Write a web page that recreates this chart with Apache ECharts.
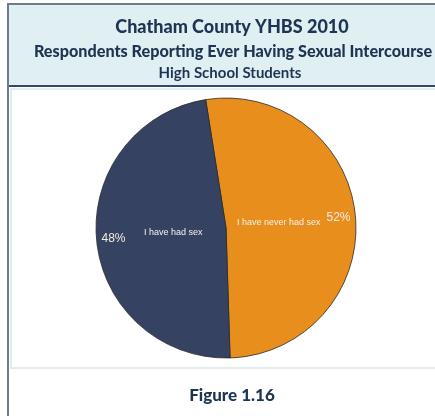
<!DOCTYPE html>
<html>
<head>
<meta charset="utf-8">
<style>
  html, body { margin: 0; padding: 0; background: #ffffff; }
  #chart { width: 435px; height: 416px; }
</style>
<script src="https://cdn.jsdelivr.net/npm/echarts@6/dist/echarts.min.js"></script>
</head>
<body>
<div id="chart"></div>
<script>
// Survey responses (percent of high school students)
const categories = ['I have never had sex', 'I have had sex'];
const percents = [52, 48];
const sliceColors = ['#e88e1d', '#354262'];

const titleLines = [
  'Chatham County YHBS 2010',
  'Respondents Reporting Ever Having Sexual Intercourse',
  'High School Students'
];
const figureCaption = 'Figure 1.16';

const chart = echarts.init(document.getElementById('chart'), null, { renderer: 'canvas' });

const pieData = categories.map((name, i) => ({
  name: name,
  value: percents[i],
  itemStyle: { color: sliceColors[i] }
}));

const center = [226, 228];
const startAngle = 99;
const titleFont = 'Lato, "Open Sans", sans-serif';
const navyText = '#1e3453';

chart.setOption({
  animation: false,
  backgroundColor: '#ffffff',
  graphic: [
    // header band
    { type: 'rect', shape: { x: 8, y: 4, width: 427, height: 82 }, style: { fill: '#e0eff1' }, z: 0 },
    // inner light frame of the chart area
    { type: 'rect', shape: { x: 11, y: 89, width: 430, height: 279 }, style: { fill: 'none', stroke: '#e2edf0', lineWidth: 2 }, z: 1 },
    // header bottom rule
    { type: 'rect', shape: { x: 8, y: 85, width: 427, height: 2 }, style: { fill: '#2f4a6c' }, z: 2 },
    // outer frame lines (top and left)
    { type: 'rect', shape: { x: 7, y: 3, width: 428, height: 2 }, style: { fill: '#6e7b8f' }, z: 2 },
    { type: 'rect', shape: { x: 7, y: 3, width: 2, height: 413 }, style: { fill: '#6e7b8f' }, z: 2 }
  ],
  title: [
    {
      text: titleLines[0], left: 227, top: 13, textAlign: 'center',
      textStyle: { fontFamily: titleFont, fontWeight: 900, fontSize: 18, color: navyText }
    },
    {
      text: titleLines[1], left: 228, top: 39, textAlign: 'center',
      textStyle: { fontFamily: titleFont, fontWeight: 900, fontSize: 16.2, color: navyText }
    },
    {
      text: titleLines[2], left: 225, top: 61, textAlign: 'center',
      textStyle: { fontFamily: titleFont, fontWeight: 'bold', fontSize: 15, color: navyText }
    },
    {
      text: figureCaption, left: 227, top: 382, textAlign: 'center',
      textStyle: { fontFamily: titleFont, fontWeight: 900, fontSize: 17, color: navyText }
    }
  ],
  series: [
    {
      // visible slices
      type: 'pie',
      center: center,
      radius: [0, 130],
      startAngle: startAngle,
      clockwise: true,
      silent: true,
      label: { show: false },
      labelLine: { show: false },
      itemStyle: { borderColor: '#2a2a2a', borderWidth: 0.8 },
      data: pieData
    },
    {
      // category names, placed near the middle of each slice
      type: 'pie',
      center: center,
      radius: [0, 100],
      startAngle: startAngle,
      clockwise: true,
      silent: true,
      itemStyle: { color: 'rgba(0,0,0,0)' },
      label: {
        show: true, position: 'inside', formatter: '{b}',
        fontFamily: '"Liberation Sans", Arial, sans-serif', fontSize: 9, color: '#f4f1ea'
      },
      labelLine: { show: false },
      data: pieData.map(d => ({ name: d.name, value: d.value }))
    },
    {
      // percentage values, placed near the rim
      type: 'pie',
      center: center,
      radius: [90, 130],
      startAngle: startAngle,
      clockwise: true,
      silent: true,
      itemStyle: { color: 'rgba(0,0,0,0)' },
      label: {
        show: true, position: 'inside', formatter: '{c}%',
        fontFamily: '"Liberation Sans", Arial, sans-serif', fontSize: 12, color: '#f3ece2'
      },
      labelLine: { show: false },
      data: pieData.map(d => ({ name: d.name, value: d.value }))
    }
  ]
});
</script>
</body>
</html>
